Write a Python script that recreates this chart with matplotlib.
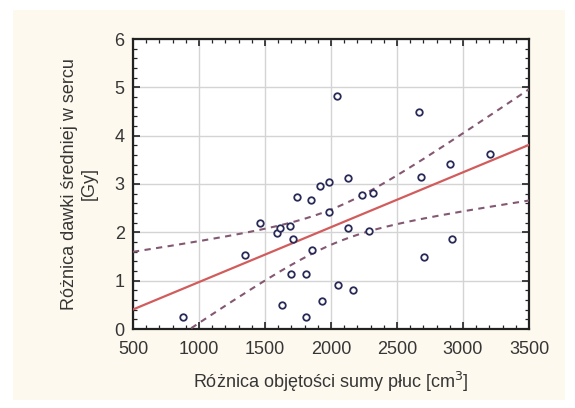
import matplotlib.pyplot as plt
import numpy as np
from matplotlib.patches import Rectangle
from matplotlib.ticker import MultipleLocator

# data
vol_diff = [880, 1350, 1460, 1590, 1610, 1630, 1690, 1695, 1715, 1740,
            1808, 1808, 1846, 1859, 1917, 1929, 1985, 1985, 2043, 2055,
            2131, 2131, 2169, 2237, 2290, 2320, 2667, 2682, 2705, 2901,
            2914, 3205]
dose_diff = [0.24, 1.53, 2.20, 1.98, 2.10, 0.50, 2.14, 1.14, 1.86, 2.74,
             1.14, 0.24, 2.66, 1.64, 2.96, 0.58, 3.04, 2.43, 4.82, 0.92,
             3.12, 2.08, 0.81, 2.77, 2.02, 2.82, 4.48, 3.15, 1.48, 3.42,
             1.86, 3.62]
x_ticks = [500, 1000, 1500, 2000, 2500, 3000, 3500]
y_ticks = [0, 1, 2, 3, 4, 5, 6]

x = np.array(vol_diff, dtype=float)
y = np.array(dose_diff)

# linear fit with 95% confidence band for the mean
b, a = np.polyfit(x, y, 1)
n = len(x)
resid = y - (a + b * x)
s = np.sqrt(np.sum(resid ** 2) / (n - 2))
t_crit = 2.042  # t(0.975, df=30)
xs = np.linspace(500, 3500, 200)
ys = a + b * xs
se = s * np.sqrt(1 / n + (xs - x.mean()) ** 2 / np.sum((x - x.mean()) ** 2))

plt.rcParams['font.family'] = ['Liberation Sans', 'DejaVu Sans']
text_col = '#363636'

fig = plt.figure(figsize=(5.75, 4.08), dpi=100)
fig.patch.set_facecolor('white')
fig.patches.append(Rectangle((13 / 575, 8 / 408), 552 / 575, 390 / 408,
                             transform=fig.transFigure, facecolor='#fdf9ee',
                             edgecolor='none', zorder=-5))

ax = fig.add_axes([133 / 575, 79 / 408, 396 / 575, 290 / 408])
ax.set_facecolor('white')

ax.plot(xs, ys, color='#d25c5c', linewidth=1.6, zorder=3)
ax.plot(xs, ys + t_crit * se, color='#845872', linewidth=1.5,
        linestyle=(0, (3, 2.6)), zorder=3)
ax.plot(xs, ys - t_crit * se, color='#845872', linewidth=1.5,
        linestyle=(0, (3, 2.6)), zorder=3)
ax.scatter(x, y, s=22, facecolor='white', edgecolor='#2a2a58',
           linewidth=1.3, zorder=4)

ax.set_xlim(500, 3500)
ax.set_ylim(0, 6)
ax.set_xticks(x_ticks)
ax.set_yticks(y_ticks)
ax.xaxis.set_minor_locator(MultipleLocator(100))
ax.yaxis.set_minor_locator(MultipleLocator(0.2))
ax.grid(True, which='major', color='#d4d4d4', linewidth=1.0)
ax.set_axisbelow(True)

ax.tick_params(which='both', direction='in', top=True, right=True,
               colors='#222222', labelcolor=text_col, labelsize=13)
ax.tick_params(which='major', length=5, width=1.2)
ax.tick_params(which='minor', length=3, width=0.9)
ax.tick_params(axis='x', pad=9)
ax.tick_params(axis='y', pad=6)
for sp in ax.spines.values():
    sp.set_linewidth(1.6)
    sp.set_color('#222222')

ax.set_xlabel('Różnica objętości sumy płuc [cm$^3$]', fontsize=13,
              color=text_col, labelpad=8)
ax.set_ylabel('Różnica dawki średniej w sercu\n[Gy]', fontsize=13,
              color=text_col, labelpad=12, linespacing=1.2)

fig.savefig('out.png', dpi=100, facecolor=fig.get_facecolor())
